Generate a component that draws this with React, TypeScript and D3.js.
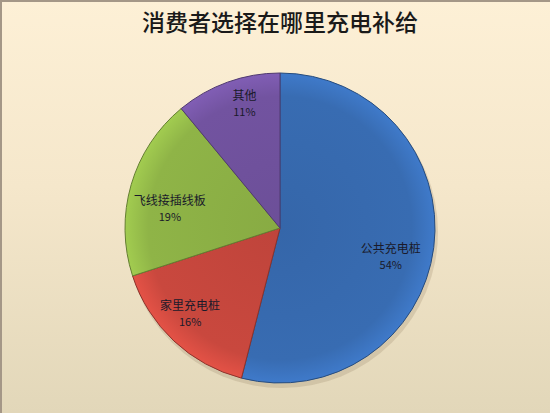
import { useEffect, useRef } from 'react';
import * as d3 from 'd3';

const categories = ['公共充电桩', '家里充电桩', '飞线接插线板', '其他'];
const shares = [54, 16, 19, 11];
const colors = ['#386cb2', '#c9483e', '#8fb447', '#7253a0'];
// label placement: fraction of radius, then a small nudge in px
const labelRadius = [0.74, 0.8, 0.72, 0.83];
const labelNudge: [number, number][] = [
  [-3, 14],
  [-5, -5],
  [-3, 11],
  [8, -4]
];

const W = 550;
const H = 413;

export default function App() {
  const ref = useRef<SVGSVGElement | null>(null);

  useEffect(() => {
    if (!ref.current) return;
    const svg = d3.select(ref.current);
    svg.selectAll('*').remove();

    const defs = svg.append('defs');

    // Background gradient
    const bg = defs
      .append('linearGradient')
      .attr('id', 'bg-grad')
      .attr('x1', '0%')
      .attr('y1', '0%')
      .attr('x2', '0%')
      .attr('y2', '100%');
    bg.append('stop').attr('offset', '0%').attr('stop-color', '#fdf0d6');
    bg.append('stop').attr('offset', '45%').attr('stop-color', '#f5e7cb');
    bg.append('stop').attr('offset', '100%').attr('stop-color', '#e2d7b9');

    svg.append('rect').attr('width', W).attr('height', H).attr('fill', 'url(#bg-grad)');
    svg
      .append('path')
      .attr('d', `M1,${H} L1,1 L${W},1`)
      .attr('fill', 'none')
      .attr('stroke', '#a49787')
      .attr('stroke-width', 2);

    // Title
    svg
      .append('text')
      .attr('x', 280)
      .attr('y', 31)
      .attr('text-anchor', 'middle')
      .style('font-family', '"Noto Sans CJK SC", sans-serif')
      .style('font-size', '23px')
      .style('font-weight', 500)
      .style('fill', '#1a1a1a')
      .text('消费者选择在哪里充电补给');

    const cx = 280;
    const cy = 228;
    const R = 155;

    // Slice shading gradients
    colors.forEach((c, i) => {
      const g = defs
        .append('radialGradient')
        .attr('id', `slice-${i}`)
        .attr('gradientUnits', 'userSpaceOnUse')
        .attr('cx', 0)
        .attr('cy', 0)
        .attr('r', R);
      g.append('stop').attr('offset', '0%').attr('stop-color', d3.color(c)!.darker(0.15).formatHex());
      g.append('stop').attr('offset', '85%').attr('stop-color', c);
      g.append('stop').attr('offset', '100%').attr('stop-color', d3.color(c)!.brighter(0.35).formatHex());
    });

    const pie = d3
      .pie<number>()
      .sort(null)
      .value((d) => d);
    const arcs = pie(shares);

    const arc = d3.arc<d3.PieArcDatum<number>>().innerRadius(0).outerRadius(R);

    const g = svg.append('g').attr('transform', `translate(${cx}, ${cy})`);

    // Soft shadow under pie
    g.append('circle')
      .attr('cx', 2)
      .attr('cy', 4)
      .attr('r', R + 1)
      .attr('fill', 'rgba(120,100,70,0.18)');

    g.selectAll('path.slice')
      .data(arcs)
      .enter()
      .append('path')
      .attr('class', 'slice')
      .attr('d', arc)
      .attr('fill', (_, i) => `url(#slice-${i})`)
      .attr('stroke', (_, i) => d3.color(colors[i])!.darker(1).formatHex())
      .attr('stroke-width', 1)
      .attr('stroke-linejoin', 'round');

    // Labels
    arcs.forEach((a, i) => {
      const lr = R * labelRadius[i];
      const [x0, y0] = d3.arc<d3.PieArcDatum<number>>().innerRadius(lr).outerRadius(lr).centroid(a);
      const x = x0 + labelNudge[i][0];
      const y = y0 + labelNudge[i][1];
      const t = g
        .append('text')
        .attr('text-anchor', 'middle')
        .style('font-family', '"Noto Sans CJK SC", sans-serif')
        .style('font-size', '12px')
        .style('fill', '#1a1a2a');
      t.append('tspan').attr('x', x).attr('y', y - 3).text(categories[i]);
      t.append('tspan')
        .attr('x', x)
        .attr('y', y + 13)
        .style('font-size', '11px')
        .text(`${shares[i]}%`);
    });
  }, []);

  return (
    <svg
      ref={ref}
      width={W}
      height={H}
      style={{ position: 'absolute', left: 0, top: 0, display: 'block' }}
    />
  );
}
